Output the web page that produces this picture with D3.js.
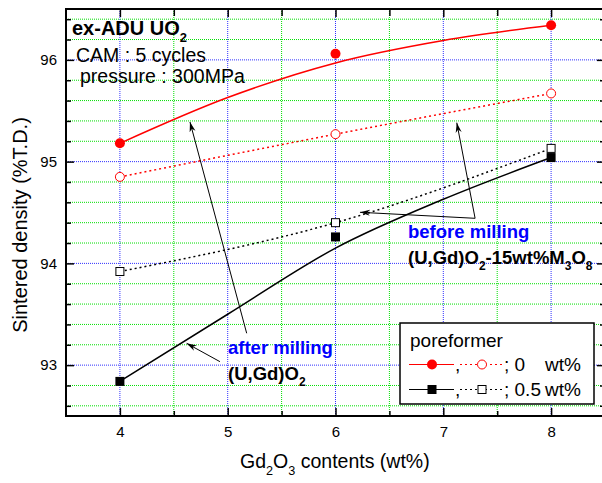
<!DOCTYPE html>
<html>
<head>
<meta charset="utf-8">
<script src="https://cdn.jsdelivr.net/npm/d3@7"></script>
<style>
body { margin: 0; background: #fff; }
text { font-family: Arial, "Liberation Sans", sans-serif; fill: #000; }
</style>
</head>
<body>
<div id="chart"></div>
<script>
// Gd2O3 content (wt%) and sintered density (%T.D.)
const gdContent = [4, 6, 8];
const after0 = [95.18, 96.06, 96.34];     // after milling, 0 wt% poreformer
const before0 = [94.85, 95.27, 95.67];    // before milling, 0 wt%
const after05 = [92.84, 94.26, 95.04];    // after milling, 0.5 wt%
const before05 = [93.92, 94.40, 95.13];   // before milling, 0.5 wt%

// fitted trend lines for the "after milling" series
const fitX = [4, 5, 6, 7, 8];
const fitAfter0 = [95.18, 95.63, 95.97, 96.19, 96.34];
const fitAfter05 = [92.84, 93.50, 94.15, 94.63, 95.04];

const xTicks = [4, 5, 6, 7, 8];
const yTicks = [93, 94, 95, 96];

// annotation arrows in data units: [x1, y1, x2, y2]
const arrows = [
    [5.176, 93.313, 4.65, 95.39],
    [4.928, 93.034, 4.619, 93.214],
    [7.295, 94.443, 6.227, 94.502],
    [7.295, 94.443, 7.125, 95.383]
];

const width = 602;
const height = 483;

const svg = d3.select("#chart")
    .append("svg")
    .attr("width", width)
    .attr("height", height);

const x = d3.scaleLinear().domain([3.5, 8.5]).range([66, 605]);
const y = d3.scaleLinear().domain([92.5, 96.5]).range([416, 9]);

const isInt = v => Math.abs(v - Math.round(v)) < 1e-6;
const xMinor = d3.range(4, 8.51, 0.5).filter(v => !isInt(v));
const yMinor = d3.range(92.6, 96.45, 0.2).filter(v => !isInt(v));

// grid
const grid = svg.append("g");
grid.selectAll(".gx").data(xMinor).enter().append("line")
    .attr("x1", d => x(d)).attr("x2", d => x(d))
    .attr("y1", 9).attr("y2", 416)
    .attr("stroke", "#00e000").attr("stroke-dasharray", "1,1");
grid.selectAll(".gy").data(yMinor).enter().append("line")
    .attr("y1", d => y(d)).attr("y2", d => y(d))
    .attr("x1", 66).attr("x2", 605)
    .attr("stroke", "#00e000").attr("stroke-dasharray", "1,1");
grid.selectAll(".bx").data(xTicks).enter().append("line")
    .attr("x1", d => x(d)).attr("x2", d => x(d))
    .attr("y1", 9).attr("y2", 416)
    .attr("stroke", "#3030ff").attr("stroke-dasharray", "1,1");
grid.selectAll(".by").data(yTicks).enter().append("line")
    .attr("y1", d => y(d)).attr("y2", d => y(d))
    .attr("x1", 66).attr("x2", 605)
    .attr("stroke", "#3030ff").attr("stroke-dasharray", "1,1");

// lines
const smooth = d3.line().x(d => x(d[0])).y(d => y(d[1])).curve(d3.curveMonotoneX);

svg.append("path")
    .attr("d", smooth(d3.zip(fitX, fitAfter0)))
    .attr("fill", "none").attr("stroke", "red").attr("stroke-width", 1.5);
svg.append("path")
    .attr("d", smooth(d3.zip(gdContent, before0)))
    .attr("fill", "none").attr("stroke", "red").attr("stroke-width", 1.5)
    .attr("stroke-dasharray", "2,3");
svg.append("path")
    .attr("d", smooth(d3.zip(fitX, fitAfter05)))
    .attr("fill", "none").attr("stroke", "black").attr("stroke-width", 1.5);
svg.append("path")
    .attr("d", smooth(d3.zip(gdContent, before05)))
    .attr("fill", "none").attr("stroke", "black").attr("stroke-width", 1.5)
    .attr("stroke-dasharray", "2,3");

// markers
svg.selectAll(".p1").data(d3.zip(gdContent, after0)).enter().append("circle")
    .attr("cx", d => x(d[0])).attr("cy", d => y(d[1])).attr("r", 5)
    .attr("fill", "red");
svg.selectAll(".p2").data(d3.zip(gdContent, before0)).enter().append("circle")
    .attr("cx", d => x(d[0])).attr("cy", d => y(d[1])).attr("r", 4.5)
    .attr("fill", "white").attr("stroke", "red").attr("stroke-width", 1);
svg.selectAll(".p3").data(d3.zip(gdContent, after05)).enter().append("rect")
    .attr("x", d => x(d[0]) - 4.5).attr("y", d => y(d[1]) - 4.5)
    .attr("width", 9).attr("height", 9).attr("fill", "black");
svg.selectAll(".p4").data(d3.zip(gdContent, before05)).enter().append("rect")
    .attr("x", d => x(d[0]) - 4).attr("y", d => y(d[1]) - 4)
    .attr("width", 8).attr("height", 8)
    .attr("fill", "white").attr("stroke", "black").attr("stroke-width", 1);

// arrows
svg.append("defs").append("marker")
    .attr("id", "head").attr("markerUnits", "userSpaceOnUse")
    .attr("viewBox", "0 -4 10 8").attr("refX", 10).attr("refY", 0)
    .attr("markerWidth", 10).attr("markerHeight", 8).attr("orient", "auto")
    .append("path").attr("d", "M0,-3L10,0L0,3L3,0Z").attr("fill", "black");

svg.selectAll(".arrow").data(arrows).enter().append("line")
    .attr("x1", d => x(d[0])).attr("y1", d => y(d[1]))
    .attr("x2", d => x(d[2])).attr("y2", d => y(d[3]))
    .attr("stroke", "black").attr("stroke-width", 1)
    .attr("marker-end", "url(#head)");

// text with subscripts: parts = [[text, isSub], ...]
function richText(px, py, parts, size, weight, color) {
    const t = svg.append("text")
        .attr("x", px).attr("y", py)
        .style("font-size", size + "px")
        .style("font-weight", weight)
        .style("fill", color);
    const drop = Math.round(size * 0.35);
    let shifted = false;
    parts.forEach(p => {
        const s = t.append("tspan").text(p[0]);
        if (p[1] && !shifted) { s.attr("dy", drop).style("font-size", (size * 0.65) + "px"); shifted = true; }
        else if (p[1]) { s.style("font-size", (size * 0.65) + "px"); }
        else if (shifted) { s.attr("dy", -drop); shifted = false; }
    });
    return t;
}

richText(72, 35, [["ex-ADU UO"], ["2", true]], 20, "bold", "#000");
richText(76, 62, [["CAM : 5 cycles"]], 19.5, "normal", "#000");
richText(80, 83, [["pressure : 300MPa"]], 19.5, "normal", "#000");

richText(228, 354, [["after milling"]], 18.5, "bold", "#0000ff");
richText(228, 380, [["(U,Gd)O"], ["2", true]], 18.5, "bold", "#000");
richText(408, 238, [["before milling"]], 18.5, "bold", "#0000ff");
richText(408, 264, [["(U,Gd)O"], ["2", true], ["-15wt%M"], ["3", true], ["O"], ["8", true]], 18.5, "bold", "#000");

// legend
const lg = svg.append("g");
lg.append("rect").attr("x", 400).attr("y", 323).attr("width", 194).attr("height", 81)
    .attr("fill", "white").attr("stroke", "black").attr("stroke-width", 1.5);
lg.append("text").attr("x", 410).attr("y", 346.5).style("font-size", "19px").text("poreformer");

const rows = [
    {y: 364.5, color: "red", shape: "circle", label: "0", unitX: 545},
    {y: 389.5, color: "black", shape: "square", label: "0.5", unitX: 545}
];
rows.forEach(r => {
    lg.append("line").attr("x1", 409).attr("x2", 454).attr("y1", r.y).attr("y2", r.y)
        .attr("stroke", r.color).attr("stroke-width", 1.2);
    lg.append("line").attr("x1", 460).attr("x2", 502).attr("y1", r.y).attr("y2", r.y)
        .attr("stroke", r.color).attr("stroke-width", 1.2).attr("stroke-dasharray", "2,3");
    if (r.shape === "circle") {
        lg.append("circle").attr("cx", 432).attr("cy", r.y).attr("r", 5).attr("fill", r.color);
        lg.append("circle").attr("cx", 482).attr("cy", r.y).attr("r", 4.5)
            .attr("fill", "white").attr("stroke", r.color);
    } else {
        lg.append("rect").attr("x", 427.5).attr("y", r.y - 4.5).attr("width", 9).attr("height", 9).attr("fill", "black");
        lg.append("rect").attr("x", 478).attr("y", r.y - 4).attr("width", 8).attr("height", 8)
            .attr("fill", "white").attr("stroke", "black");
    }
    lg.append("text").attr("x", 455).attr("y", r.y + 6).style("font-size", "19px").text(",");
    lg.append("text").attr("x", 504).attr("y", r.y + 6.5).style("font-size", "19px").text("; " + r.label);
    lg.append("text").attr("x", r.unitX).attr("y", r.y + 6.5).style("font-size", "19px").text("wt%");
});

// axes
function styleAxis(g) {
    g.select(".domain").remove();
    g.selectAll(".tick line").attr("stroke", "black").attr("stroke-width", 1.5);
    g.selectAll(".tick text").style("font-size", "15px").style("font-family", "Arial, 'Liberation Sans', sans-serif");
}

svg.append("g").attr("transform", "translate(0,416)")
    .call(d3.axisBottom(x).tickValues(xTicks).tickSize(-8).tickPadding(10).tickFormat(d3.format("d")))
    .call(styleAxis);
svg.append("g").attr("transform", "translate(0,416)")
    .call(d3.axisBottom(x).tickValues(xMinor).tickSize(-5).tickFormat(""))
    .call(styleAxis);
svg.append("g").attr("transform", "translate(0,9)")
    .call(d3.axisTop(x).tickValues(xTicks).tickSize(-8).tickFormat(""))
    .call(styleAxis);
svg.append("g").attr("transform", "translate(0,9)")
    .call(d3.axisTop(x).tickValues(xMinor).tickSize(-7).tickFormat(""))
    .call(styleAxis);

svg.append("g").attr("transform", "translate(66,0)")
    .call(d3.axisLeft(y).tickValues(yTicks).tickSize(-8).tickPadding(9).tickFormat(d3.format("d")))
    .call(styleAxis);
svg.append("g").attr("transform", "translate(66,0)")
    .call(d3.axisLeft(y).tickValues(yMinor).tickSize(-5).tickFormat(""))
    .call(styleAxis);
svg.append("g").attr("transform", "translate(605,0)")
    .call(d3.axisRight(y).tickValues(yTicks).tickSize(-8).tickFormat(""))
    .call(styleAxis);
svg.append("g").attr("transform", "translate(605,0)")
    .call(d3.axisRight(y).tickValues(yMinor).tickSize(-5).tickFormat(""))
    .call(styleAxis);

// frame
svg.append("rect").attr("x", 66).attr("y", 9).attr("width", 539).attr("height", 407)
    .attr("fill", "none").attr("stroke", "black").attr("stroke-width", 2);

// axis titles
svg.append("text")
    .attr("transform", "translate(27,225) rotate(-90)")
    .attr("text-anchor", "middle")
    .style("font-size", "20px")
    .text("Sintered density (%T.D.)");

richText(240, 468, [["Gd"], ["2", true], ["O"], ["3", true], [" contents (wt%)"]], 19.5, "normal", "#000");
</script>
</body>
</html>
